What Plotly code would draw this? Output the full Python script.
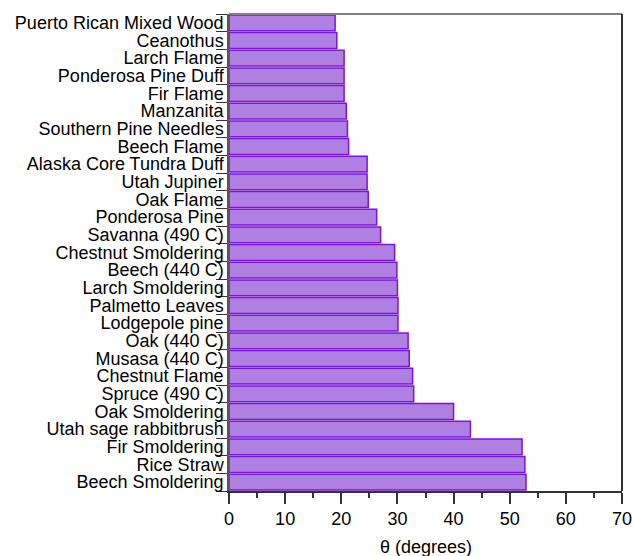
import plotly.graph_objects as go

# Fuel types, listed top to bottom
fuels = [
    "Puerto Rican Mixed Wood", "Ceanothus", "Larch Flame", "Ponderosa Pine Duff",
    "Fir Flame", "Manzanita", "Southern Pine Needles", "Beech Flame",
    "Alaska Core Tundra Duff", "Utah Jupiner", "Oak Flame", "Ponderosa Pine",
    "Savanna (490 C)", "Chestnut Smoldering", "Beech (440 C)", "Larch Smoldering",
    "Palmetto Leaves", "Lodgepole pine", "Oak (440 C)", "Musasa (440 C)",
    "Chestnut Flame", "Spruce (490 C)", "Oak Smoldering", "Utah sage rabbitbrush",
    "Fir Smoldering", "Rice Straw", "Beech Smoldering",
]
# Angle theta in degrees for each fuel
theta = [
    18.9, 19.2, 20.5, 20.5,
    20.5, 20.9, 21.1, 21.3,
    24.6, 24.6, 24.8, 26.3,
    27.0, 29.5, 29.9, 30.0,
    30.1, 30.1, 31.9, 32.1,
    32.7, 32.9, 40.0, 43.0,
    52.2, 52.7, 52.9,
]
x_ticks = [0, 10, 20, 30, 40, 50, 60, 70]

font = dict(family="Liberation Sans, Arial, sans-serif", size=18, color="black")

fig = go.Figure(
    go.Bar(
        x=theta,
        y=fuels,
        orientation="h",
        marker=dict(color="#b07fe2", line=dict(color="#7a14d8", width=1.5)),
    )
)

fig.update_layout(
    width=633,
    height=556,
    margin=dict(l=229, r=11, t=14, b=65),
    paper_bgcolor="white",
    plot_bgcolor="white",
    showlegend=False,
    bargap=0.1,
    font=font,
    xaxis=dict(
        range=[0, 70],
        tickvals=x_ticks,
        ticks="outside",
        ticklen=11,
        tickwidth=1.5,
        tickcolor="#333",
        minor=dict(dtick=5, ticks="outside", ticklen=5, tickwidth=1.5, tickcolor="#333"),
        showline=True,
        linecolor="#333",
        linewidth=1.5,
        showgrid=False,
        zeroline=False,
        automargin=False,
        tickfont=font,
    ),
    yaxis=dict(
        autorange="reversed",
        type="category",
        tickmode="array",
        tickvals=fuels,
        ticktext=fuels,
        ticks="outside",
        tickson="boundaries",
        ticklen=11,
        tickwidth=1.2,
        tickcolor="#333",
        ticklabelstandoff=0,
        showline=True,
        linecolor="#555",
        linewidth=1.5,
        showgrid=False,
        zeroline=False,
        automargin=False,
        tickfont=font,
    ),
    shapes=[
        dict(type="line", xref="paper", yref="paper", x0=0, x1=1, y0=1, y1=1,
             line=dict(color="#808080", width=2)),
        dict(type="line", xref="paper", yref="paper", x0=1, x1=1, y0=0, y1=1,
             line=dict(color="#333", width=2)),
    ],
    annotations=[
        dict(text="θ (degrees)", xref="paper", yref="paper", x=0.5, y=0,
             yshift=-56, showarrow=False, font=font, yanchor="middle"),
    ],
)

fig.write_html("out.html")
